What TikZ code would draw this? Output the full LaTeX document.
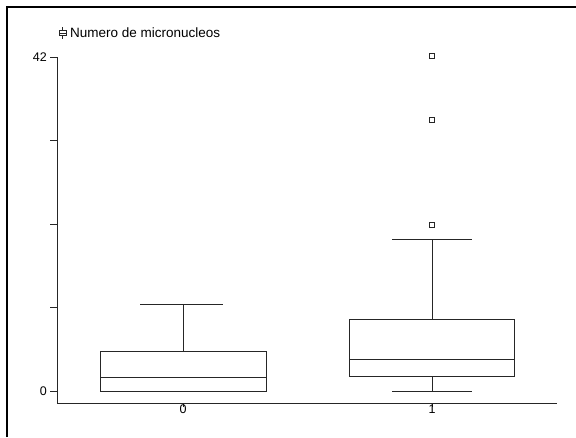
\documentclass[tikz,border=0pt]{standalone}
\usepackage{fontspec}
\setmainfont{Liberation Sans}
\begin{document}
\begin{tikzpicture}[x=1pt,y=-1pt,
  ln/.style={draw=black!85,line width=0.9pt},
  frm/.style={draw=black,line width=1.1pt},
  lab/.style={font=\fontsize{12.5}{14}\selectfont,inner sep=0pt},
  outl/.style={draw=black!85,line width=0.8pt,minimum size=5pt,inner sep=0pt,rectangle}]
\useasboundingbox (0,0) rectangle (576,437);
% frame
\draw[frm] (7,437) -- (7,7) -- (576,7);
% title with icon
\draw[ln,line width=0.7pt] (59,30.5) rectangle (66,35.5);
\draw[ln,line width=0.7pt] (59,33) -- (66,33) (62.5,27) -- (62.5,30.5) (62.5,35.5) -- (62.5,39);
\node[lab,anchor=west,font=\fontsize{13.5}{15}\selectfont] (title) at (70,33) {Numero de micronucleos};
% axes
\coordinate (yt) at (57,57);
\coordinate (o) at (57,403.5);
\coordinate (xr) at (557,403.5);
\draw[ln] (yt) -- (o) -- (xr);
\foreach \y in {57,140.5,224,307.5,391} \draw[ln] (50,\y) -- (57,\y);
\node[lab,anchor=east] (l42) at (47,57) {42};
\node[lab,anchor=east] (l0) at (47,391) {0};
\draw[ln] (183,403.5) -- (183,407);
\draw[ln] (432,403.5) -- (432,407);
\node[lab] (x0) at (183,409) {0};
\node[lab] (x1) at (432,409) {1};
% box 0
\draw[ln] (100,351.7) rectangle (266,391);
\draw[ln] (100,377) -- (266,377);
\draw[ln] (183,351.7) -- (183,304);
\draw[ln] (140,304) -- (223,304);
% box 1
\draw[ln] (349.5,319.3) rectangle (514,376.7);
\draw[ln] (349.5,359.3) -- (514,359.3);
\draw[ln] (432,319.3) -- (432,239.3);
\draw[ln] (392,239.3) -- (471.5,239.3);
\draw[ln] (432,376.7) -- (432,391);
\draw[ln] (392,391) -- (471.5,391);
% outliers
\node[outl] (o1) at (432,225) {};
\node[outl] (o2) at (432,120) {};
\node[outl] (o3) at (432,55.5) {};
\end{tikzpicture}
\end{document}
